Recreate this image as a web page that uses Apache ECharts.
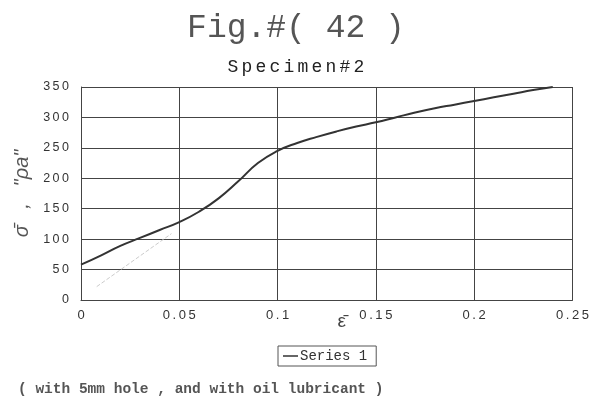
<!DOCTYPE html>
<html>
<head>
<meta charset="utf-8">
<script src="https://cdn.jsdelivr.net/npm/echarts@6/dist/echarts.min.js"></script>
<style>
  html, body { margin: 0; padding: 0; background: #fff; }
  #chart { width: 592px; height: 400px; }
</style>
</head>
<body>
<div id="chart"></div>
<script>
// strain values (x) and stress values (y)
var strain = [0, 0.01, 0.02, 0.03, 0.04, 0.05, 0.06, 0.07, 0.08, 0.09, 0.1, 0.11, 0.12,
  0.13, 0.14, 0.15, 0.16, 0.17, 0.18, 0.19, 0.2, 0.21, 0.22, 0.23, 0.24]
var stress = [58, 73, 89, 102, 115, 128, 145, 167, 195, 225, 245, 258, 268,
  277, 285, 292, 300, 308, 315, 321, 327, 333, 339, 345, 350]
// faint pencil trace near the origin
var traceX = [0.008, 0.046]
var traceY = [22, 109]
var xTicks = [0, 0.05, 0.1, 0.15, 0.2, 0.25]
var yTicks = [0, 50, 100, 150, 200, 250, 300, 350]

var chart = echarts.init(document.getElementById('chart'))
var mono = '"Liberation Mono", "DejaVu Sans Mono", monospace'
var spaced = function(v) {
  return String(v).split('').join('\u2009')
}
// typewriter-like spacing: each character in its own fixed box
var boxed = function(s) {
  return s.split('').map(function(c) { return '{c|' + c + '}' }).join('')
}

chart.setOption({
  animation: false,
  backgroundColor: '#fff',
  title: [
    {
      text: 'Fig.#( 42 )',
      left: 'center',
      top: 7,
      textStyle: { fontFamily: mono, fontSize: 33, fontWeight: 'normal', color: '#555' }
    },
    {
      text: boxed('Specimen#2'),
      left: 'center',
      top: 53,
      textStyle: {
        rich: { c: { fontFamily: mono, fontSize: 18, fontWeight: 'normal', color: '#222', width: 14, align: 'center' } }
      }
    },
    {
      text: '( with 5mm hole , and with oil lubricant )',
      left: 13,
      top: 377,
      textStyle: { fontFamily: mono, fontSize: 14.5, fontWeight: 'bold', color: '#555' }
    }
  ],
  legend: {
    data: ['Series 1'],
    left: 278,
    top: 346,
    icon: 'path://M0,0 L20,0 L20,2 L0,2 Z',
    itemWidth: 15,
    itemHeight: 2,
    itemGap: 2,
    padding: [3, 9, 3, 5],
    borderColor: '#555',
    borderWidth: 1,
    textStyle: { fontFamily: mono, fontSize: 14, color: '#333', padding: [0, 0, 0, -3] }
  },
  grid: {
    left: 81,
    right: 18,
    top: 87,
    bottom: 100
  },
  xAxis: {
    type: 'value',
    min: 0,
    max: 0.25,
    interval: 0.05,
    name: 'ε\u0304',
    nameLocation: 'middle',
    nameGap: 12,
    nameMoveOverlap: false,
    nameTextStyle: { fontSize: 19, color: '#444', padding: [0, 0, 0, 30] },
    axisLine: { lineStyle: { color: '#444', width: 1 } },
    axisTick: { show: false },
    splitLine: { lineStyle: { color: '#444', width: 1 } },
    axisLabel: {
      formatter: function(v) { return spaced(v) },
      fontFamily: 'Liberation Sans, Arial, sans-serif',
      fontSize: 13,
      color: '#333',
      margin: 9
    }
  },
  yAxis: {
    type: 'value',
    min: 0,
    max: 350,
    interval: 50,
    name: 'σ\u0304   ,   "ρa"',
    nameLocation: 'middle',
    nameGap: 48,
    nameRotate: 90,
    nameTextStyle: { fontSize: 20, color: '#555', fontStyle: 'italic' },
    axisLine: { show: true, lineStyle: { color: '#444', width: 1 } },
    axisTick: { show: false },
    splitLine: { lineStyle: { color: '#444', width: 1 } },
    axisLabel: {
      formatter: function(v) { return spaced(v) },
      fontFamily: 'Liberation Sans, Arial, sans-serif',
      fontSize: 12.5,
      color: '#333',
      margin: 12
    }
  },
  series: [
    {
      name: 'trace',
      type: 'line',
      data: traceX.map(function(x, i) { return [x, traceY[i]] }),
      showSymbol: false,
      silent: true,
      lineStyle: { color: '#ccc', width: 1, type: 'dashed' }
    },
    {
      name: 'Series 1',
      type: 'line',
      smooth: true,
      data: strain.map(function(x, i) { return [x, stress[i]] }),
      showSymbol: false,
      itemStyle: { color: '#333' },
      lineStyle: { color: '#333', width: 2 }
    }
  ]
})
</script>
</body>
</html>
